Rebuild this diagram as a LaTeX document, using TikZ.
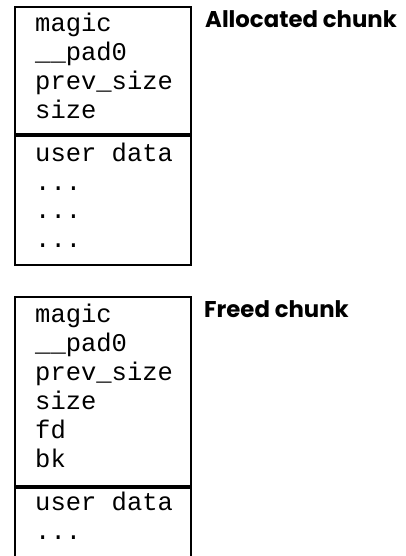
\documentclass[tikz,border=0pt]{standalone}
\usepackage{fontspec}
\setmonofont{Liberation Mono}
\newfontfamily\labfont{Poppins}
\tikzset{
  field/.style={anchor=base west, inner sep=0pt, font=\ttfamily\fontsize{25.5}{28}\selectfont},
  chunkbox/.style={draw, line width=2pt, anchor=north west, inner sep=0pt, minimum width=176pt},
  chunklabel/.style={anchor=base west, inner sep=0pt, font=\labfont\bfseries\fontsize{22.8}{26}\selectfont}
}
\begin{document}
\begin{tikzpicture}[x=1pt,y=1pt]
\useasboundingbox (0,0) rectangle (406,-556);
\clip (0,0) rectangle (406,-556);
% allocated chunk
\node[chunkbox, minimum height=127pt] (ahead) at (14,-6) {};
\node[chunkbox, minimum height=129pt] (abody) at (ahead.south west) {};
\node[field] (ah1) at (35,-32) {magic};
\node[field] (ah2) at (35,-61) {\_\_pad0};
\node[field] (ah3) at (35,-90) {prev\_size};
\node[field] (ah4) at (35,-118.5) {size};
\node[field] (ab1) at (35,-161) {user data};
\node[field] (ab2) at (35,-190) {...};
\node[field] (ab3) at (35,-218.5) {...};
\node[field] (ab4) at (35,-247.5) {...};
\node[chunklabel] (alab) at (205,-27.5) {Allocated chunk};
% freed chunk
\node[chunkbox, minimum height=189pt] (fhead) at (14,-296) {};
\node[chunkbox, minimum height=110pt] (fbody) at (fhead.south west) {};
\node[field] (fh1) at (35,-322) {magic};
\node[field] (fh2) at (35,-351) {\_\_pad0};
\node[field] (fh3) at (35,-380) {prev\_size};
\node[field] (fh4) at (35,-409) {size};
\node[field] (fh5) at (35,-438) {fd};
\node[field] (fh6) at (35,-467) {bk};
\node[field] (fb1) at (35,-510) {user data};
\node[field] (fb2) at (35,-539) {...};
\node[chunklabel] (flab) at (204,-317.5) {Freed chunk};
\end{tikzpicture}
\end{document}
